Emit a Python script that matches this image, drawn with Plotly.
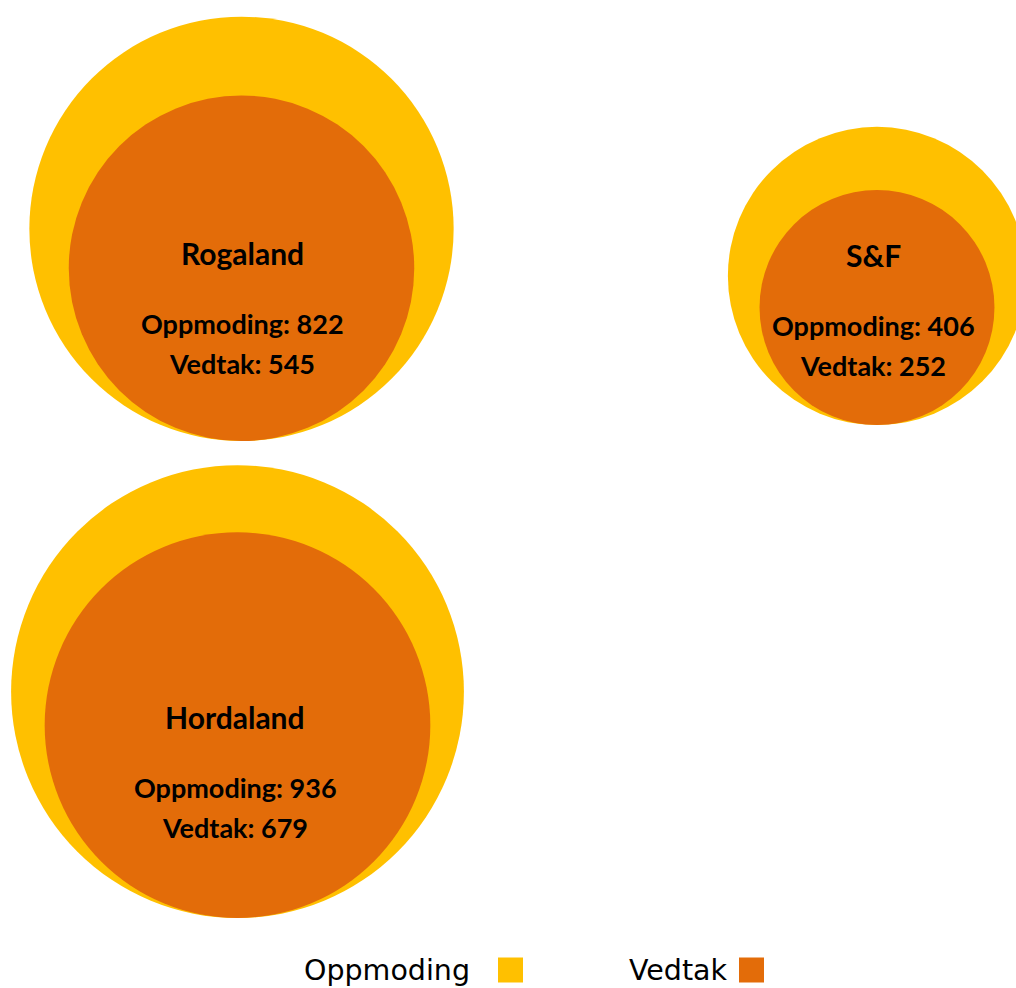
import math
import plotly.graph_objects as go

# ---- data ----
regions = ["Rogaland", "S&F", "Hordaland"]
oppmoding = [822, 406, 936]
vedtak = [545, 252, 679]
series_names = ["Oppmoding", "Vedtak"]
colors = ["#FFC000", "#E36C09"]

# ---- layout (page pixel space: x 0..1016, y 0..988 top-down) ----
W, H = 1016, 988
center_x = [241.5, 877, 237.5]        # horizontal centre of each bubble pair
bottom_y = [441, 425, 918]            # common bottom of each bubble pair
label_x = [242, 873, 235]
label_y = [253, 255, 717]
K = 7.4                                # radius (px) = K * sqrt(value)

def radius(v):
    return K * math.sqrt(v)

fig = go.Figure()

for vals, name, col in zip([oppmoding, vedtak], series_names, colors):
    r = [radius(v) for v in vals]
    fig.add_trace(go.Scatter(
        x=center_x,
        y=[b - ri for b, ri in zip(bottom_y, r)],
        mode="markers",
        marker=dict(size=[2 * ri for ri in r], sizemode="diameter", sizeref=1,
                    color=col, line=dict(width=0), opacity=1),
        name=name, hoverinfo="skip", showlegend=False, cliponaxis=True,
    ))

lab_font = dict(family="Lato, 'Open Sans', sans-serif", color="#000000")
for reg, o, v, lx, ly in zip(regions, oppmoding, vedtak, label_x, label_y):
    fig.add_annotation(x=lx, y=ly, xref="x", yref="y", text=f"<b>{reg}</b>",
                       showarrow=False, font=dict(size=30, **lab_font),
                       xanchor="center", yanchor="middle")
    fig.add_annotation(x=lx, y=ly + 70, xref="x", yref="y", text=f"<b>{series_names[0]}: {o}</b>",
                       showarrow=False, font=dict(size=27, **lab_font),
                       xanchor="center", yanchor="middle")
    fig.add_annotation(x=lx, y=ly + 110, xref="x", yref="y", text=f"<b>{series_names[1]}: {v}</b>",
                       showarrow=False, font=dict(size=27, **lab_font),
                       xanchor="center", yanchor="middle")

# ---- custom legend: text followed by swatch ----
leg_text_right = [472, 730]
leg_swatch_x0 = [498, 739]
leg_y = 970
sw = 25
for name, col, tx, sx in zip(series_names, colors, leg_text_right, leg_swatch_x0):
    fig.add_annotation(x=tx, y=leg_y, xref="x", yref="y", text=name, showarrow=False,
                       xanchor="right", yanchor="middle",
                       font=dict(family="DejaVu Sans, Verdana, sans-serif", size=28.5, color="#000000"))
    fig.add_shape(type="rect", xref="x", yref="y", x0=sx, x1=sx + sw,
                  y0=leg_y - sw / 2, y1=leg_y + sw / 2, fillcolor=col, line=dict(width=0))

fig.update_layout(
    width=W, height=H, margin=dict(l=0, r=0, t=0, b=0),
    paper_bgcolor="white", plot_bgcolor="white",
    xaxis=dict(range=[0, W], visible=False, fixedrange=True),
    yaxis=dict(range=[H, 0], visible=False, fixedrange=True),
    showlegend=False,
)

fig.write_html(
    "out.html",
    config={"displayModeBar": False, "staticPlot": True},
    post_script="document.body.style.margin='0';document.body.style.overflow='hidden';",
)
